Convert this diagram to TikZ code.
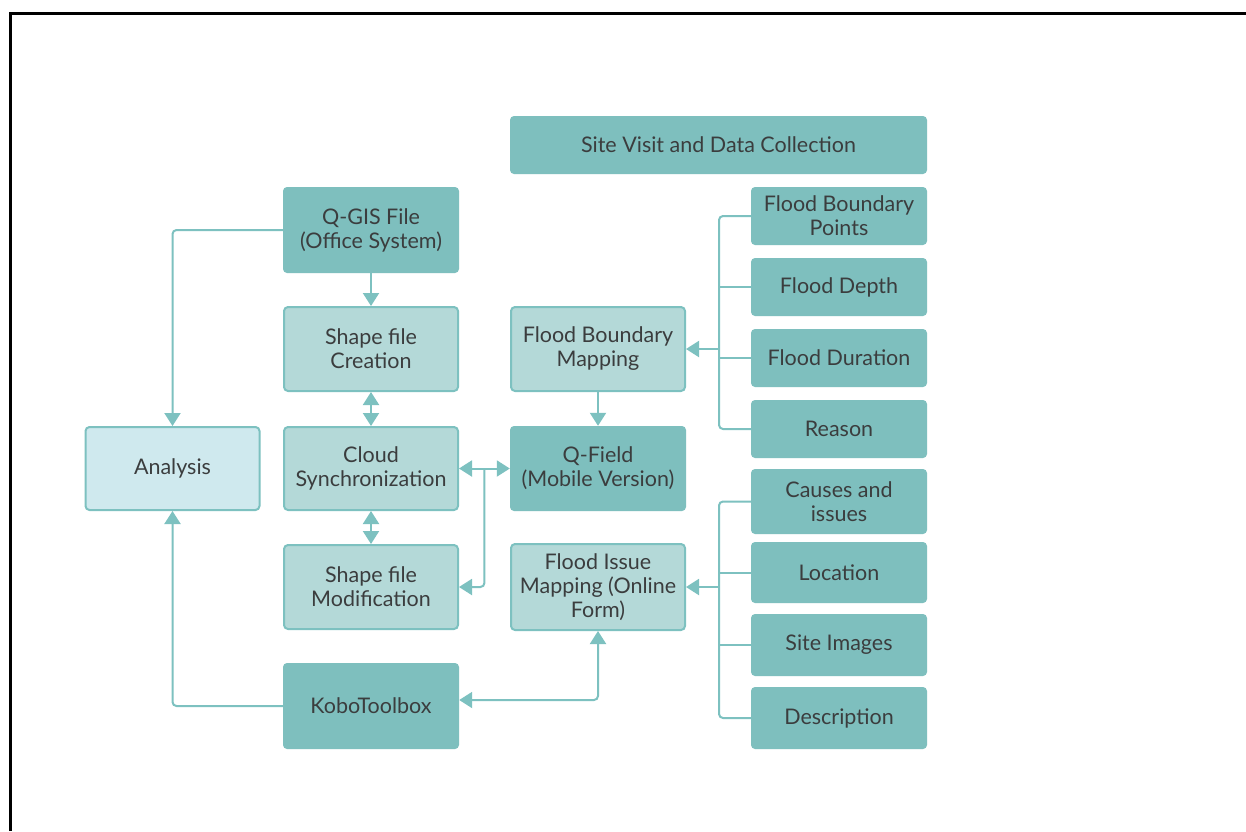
\documentclass[tikz,border=0pt]{standalone}
\usepackage{fontspec}
\setmainfont{Lato}
\usetikzlibrary{arrows.meta,calc}
\definecolor{dk}{HTML}{7EBFBE}
\definecolor{lt}{HTML}{B4D9D8}
\definecolor{an}{HTML}{CFE9EE}
\definecolor{ln}{HTML}{7DC1C0}
\definecolor{txt}{HTML}{3B3D3E}
\tikzset{
  box/.style={rounded corners=4pt, align=center, inner sep=0pt, text=txt,
    font=\fontsize{21.5}{24}\selectfont, minimum width=176pt},
  dark/.style={box, fill=dk},
  light/.style={box, fill=lt, draw=ln, line width=2pt, minimum width=174pt},
  anbox/.style={box, fill=an, draw=ln, line width=2pt, minimum width=174pt},
  conn/.style={draw=ln, line width=2pt, rounded corners=4pt},
  arr/.style={conn, -{Triangle[width=16pt,length=13pt]}},
  darr/.style={conn, {Triangle[width=16pt,length=13pt]}-{Triangle[width=16pt,length=13pt]}},
}
\begin{document}
\begin{tikzpicture}[x=1pt,y=-1pt]
\path[use as bounding box, fill=white] (0,0) rectangle (1246,831);
\draw[line width=3pt] (10,831) -- (10,13) -- (1247,13);

% top
\node[dark, minimum width=417pt, minimum height=58pt] (site) at (718.5,145) {Site Visit and Data Collection};

% left column
\node[dark, minimum height=86pt] (qgis) at (371,230) {Q-GIS File\\(Office System)};
\node[light, minimum height=84pt] (sfc) at (371,349) {Shape file\\Creation};
\node[light, minimum height=83pt] (cloud) at (371,468.5) {Cloud\\Synchronization};
\node[light, minimum height=84pt] (sfm) at (371,587) {Shape file\\Modification};
\node[dark, minimum height=86pt] (kobo) at (371,706) {KoboToolbox};
\node[anbox, minimum height=83pt] (analysis) at (172.5,468.5) {Analysis};

% middle column
\node[light, minimum height=84pt] (fbm) at (598,349) {Flood Boundary\\Mapping};
\node[dark, minimum height=85pt] (qfield) at (598,468.5) {Q-Field\\(Mobile Version)};
\node[light, minimum height=86pt] (fim) at (598,587) {Flood Issue\\Mapping (Online\\Form)};

% right column
\node[dark, minimum height=58pt] (fbp) at (839,216) {Flood Boundary\\Points};
\node[dark, minimum height=58pt] (fdep) at (839,287) {Flood Depth};
\node[dark, minimum height=58pt] (fdur) at (839,358) {Flood Duration};
\node[dark, minimum height=58pt] (reason) at (839,429) {Reason};
\node[dark, minimum height=65pt] (causes) at (839,501.5) {Causes and\\issues};
\node[dark, minimum height=61pt] (loc) at (839,572.5) {Location};
\node[dark, minimum height=62pt] (img) at (839,645) {Site Images};
\node[dark, minimum height=62pt] (desc) at (839,718) {Description};

\coordinate (bus) at (719,0);

% right buses
\draw[conn] (fbp.west) -- (fbp.west -| bus) |- (reason.west);
\draw[conn] (fdep.west) -- (fdep.west -| bus);
\draw[conn] (fdur.west) -- (fdur.west -| bus);
\draw[arr] (fbm.east -| bus) -- (fbm.east);
\draw[conn] (causes.west) -- (causes.west -| bus) |- (desc.west);
\draw[conn] (loc.west) -- (loc.west -| bus);
\draw[conn] (img.west) -- (img.west -| bus);
\draw[arr] (fim.east -| bus) -- (fim.east);

% vertical chain
\draw[arr] (qgis) -- (sfc);
\draw[darr] (sfc) -- (cloud);
\draw[darr] (cloud) -- (sfm);
\draw[arr] (fbm) -- (qfield);

% cloud <-> qfield and branch to modification
\draw[darr] (cloud.east) -- (qfield.west);
\coordinate (j) at ($(cloud.east)!0.5!(qfield.west)$);
\draw[arr] (j) |- (sfm.east);

% analysis links
\draw[arr] (qgis.west) -| (analysis.north);
\draw[arr] (kobo.west) -| (analysis.south);

% kobo <-> flood issue mapping
\draw[darr] ([yshift=6pt]kobo.east) -| (fim.south);
\end{tikzpicture}
\end{document}
